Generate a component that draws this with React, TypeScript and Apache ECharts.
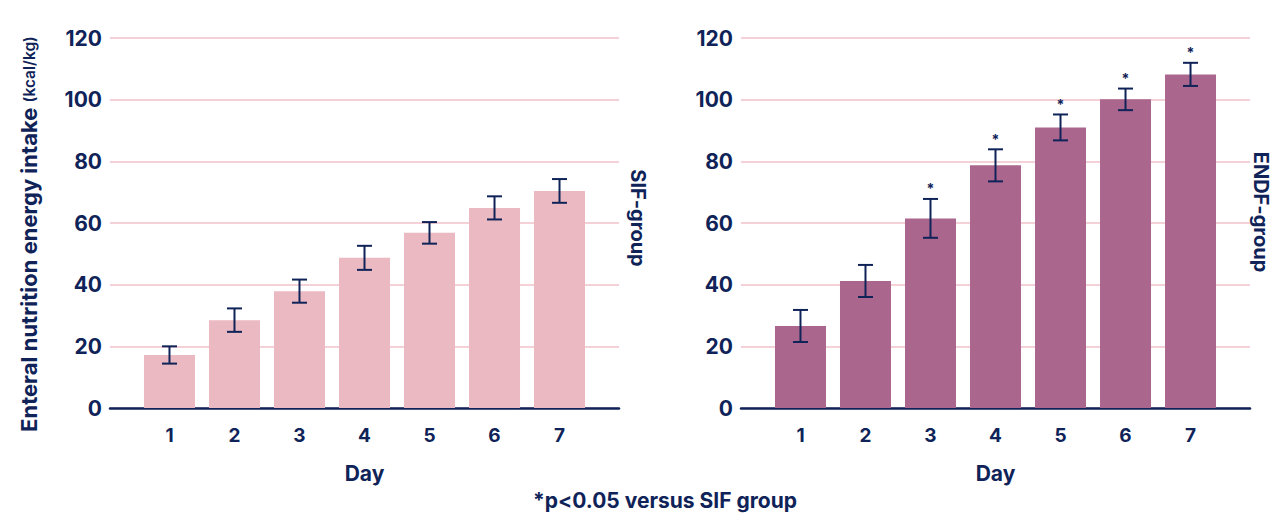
import React, { useEffect, useRef } from "react";
import * as echarts from "echarts";

const days = [1, 2, 3, 4, 5, 6, 7];
const sifMeans = [17.2, 28.5, 37.9, 48.7, 56.8, 64.9, 70.4];
const sifErr = [2.8, 3.8, 3.75, 3.9, 3.5, 3.75, 3.85];
const endfMeans = [26.6, 41.2, 61.5, 78.7, 91.0, 100.1, 108.2];
const endfErr = [5.2, 5.2, 6.3, 5.2, 4.2, 3.5, 3.75];
const endfSignificant = [false, false, true, true, true, true, true];
const yMin = 0;
const yMax = 120;
const yStep = 20;

const NAVY = "#0f2358";
const PINK_BAR = "#ebb9c1";
const PURPLE_BAR = "#ab668e";
const GRID_PINK = "#f0c2c9";
const FONT = "Inter, 'Noto Sans', sans-serif";

function errorSeries(xAxisIndex: number, means: number[], errs: number[], sig: boolean[] | null) {
  return {
    type: "custom",
    xAxisIndex,
    yAxisIndex: xAxisIndex,
    z: 5,
    data: days.map((d, i) => [d, means[i] - errs[i], means[i] + errs[i], sig && sig[i] ? 1 : 0]),
    renderItem: (params: any, api: any) => {
      const x = api.value(0);
      const lo = api.coord([x, api.value(1)]);
      const hi = api.coord([x, api.value(2)]);
      const half = 7.5;
      const st = { stroke: NAVY, lineWidth: 2 };
      const children: any[] = [
        { type: "line", shape: { x1: lo[0], y1: lo[1], x2: hi[0], y2: hi[1] }, style: st },
        { type: "line", shape: { x1: lo[0] - half, y1: lo[1], x2: lo[0] + half, y2: lo[1] }, style: st },
        { type: "line", shape: { x1: hi[0] - half, y1: hi[1], x2: hi[0] + half, y2: hi[1] }, style: st },
      ];
      if (api.value(3) === 1) {
        children.push({
          type: "text",
          style: {
            text: "*",
            x: hi[0],
            y: hi[1] - 3,
            align: "center",
            verticalAlign: "bottom",
            fill: NAVY,
            font: `bold 14px ${FONT}`,
          },
        });
      }
      return { type: "group", children };
    },
  };
}

function xAxisDef(gridIndex: number) {
  return {
    type: "value",
    gridIndex,
    min: 0.085,
    max: 7.915,
    name: "Day",
    nameLocation: "middle",
    nameGap: 55,
    nameTextStyle: { color: NAVY, fontSize: 21, fontWeight: 700, fontFamily: FONT },
    axisLine: { show: true, lineStyle: { color: NAVY, width: 2.5 } },
    axisTick: { show: false },
    splitLine: { show: false },
    axisLabel: {
      customValues: days,
      color: NAVY,
      fontSize: 19,
      fontWeight: 700,
      fontFamily: FONT,
      margin: 18,
    },
  };
}

function yAxisDef(gridIndex: number) {
  return {
    type: "value",
    gridIndex,
    min: yMin,
    max: yMax,
    interval: yStep,
    axisLine: { show: false },
    axisTick: { show: false },
    splitLine: { show: true, lineStyle: { color: GRID_PINK, width: 1.5 } },
    axisLabel: {
      color: NAVY,
      fontSize: 21,
      fontWeight: 700,
      fontFamily: FONT,
      margin: 8,
    },
  };
}

export default function App() {
  const ref = useRef<HTMLDivElement>(null);
  useEffect(() => {
    if (!ref.current) return;
    const chart = echarts.init(ref.current, null, { renderer: "svg" });
    chart.setOption({
      animation: false,
      backgroundColor: "#ffffff",
      grid: [
        { left: 110, right: 1274 - 619, top: 38, bottom: 105 },
        { left: 741, right: 1274 - 1250, top: 38, bottom: 105 },
      ],
      xAxis: [xAxisDef(0), xAxisDef(1)],
      yAxis: [yAxisDef(0), yAxisDef(1)],
      series: [
        {
          type: "bar",
          xAxisIndex: 0,
          yAxisIndex: 0,
          barWidth: 51,
          itemStyle: { color: PINK_BAR },
          data: days.map((d, i) => [d, sifMeans[i]]),
        },
        errorSeries(0, sifMeans, sifErr, null),
        {
          type: "bar",
          xAxisIndex: 1,
          yAxisIndex: 1,
          barWidth: 51,
          itemStyle: { color: PURPLE_BAR },
          data: days.map((d, i) => [d, endfMeans[i]]),
        },
        errorSeries(1, endfMeans, endfErr, endfSignificant),
      ],
      graphic: [
        {
          type: "text",
          x: 29,
          y: 234,
          rotation: Math.PI / 2,
          style: {
            text: "{a|Enteral nutrition energy intake }{b|(kcal/kg)}",
            align: "center",
            verticalAlign: "middle",
            fill: NAVY,
            rich: {
              a: { fontSize: 22, fontWeight: 700, fontFamily: FONT, fill: NAVY, color: NAVY },
              b: { fontSize: 15.5, fontWeight: 600, fontFamily: FONT, fill: NAVY, color: NAVY },
            },
          },
        },
        {
          type: "text",
          x: 638,
          y: 218,
          rotation: -Math.PI / 2,
          style: {
            text: "SIF-group",
            align: "center",
            verticalAlign: "middle",
            fill: NAVY,
            font: `700 20px ${FONT}`,
          },
        },
        {
          type: "text",
          x: 1261,
          y: 212,
          rotation: -Math.PI / 2,
          style: {
            text: "ENDF-group",
            align: "center",
            verticalAlign: "middle",
            fill: NAVY,
            font: `700 20px ${FONT}`,
          },
        },
        {
          type: "text",
          x: 665,
          y: 500,
          style: {
            text: "*p<0.05 versus SIF group",
            align: "center",
            verticalAlign: "middle",
            fill: NAVY,
            font: `700 21px ${FONT}`,
          },
        },
      ],
    });
    return () => chart.dispose();
  }, []);
  return (
    <div
      ref={ref}
      style={{ position: "fixed", left: 0, top: 0, width: 1274, height: 513 }}
    />
  );
}
